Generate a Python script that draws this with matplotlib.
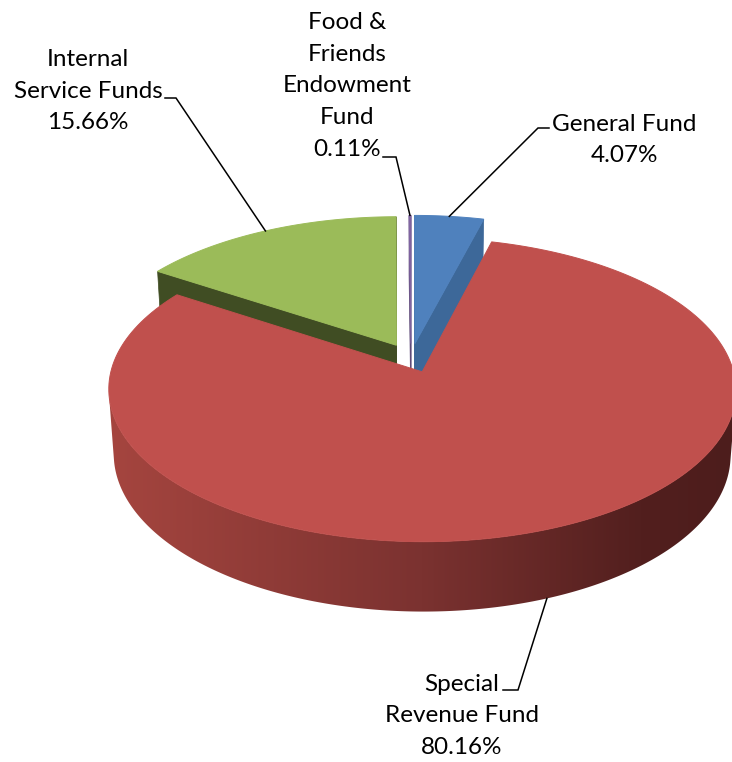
import numpy as np
import matplotlib.pyplot as plt
from matplotlib.patches import Polygon
from matplotlib.colors import LinearSegmentedColormap

# slice data, in drawing order (clockwise from 12 o'clock)
funds = ["General Fund", "Special Revenue Fund", "Internal Service Funds",
         "Food & Friends Endowment Fund"]
shares = [4.07, 80.16, 15.66, 0.11]
label_lines = ["General Fund", "Special\nRevenue Fund", "Internal\nService Funds",
               "Food &\nFriends\nEndowment\nFund"]
top_colors = ["#4F81BD", "#C0504D", "#9BBB59", "#8064A2"]
side_colors = ["#3D6899", "#8E3B39", "#404D23", "#5E4A78"]

# label layout: text centre, leader stub (text side x, elbow x, y), anchor on rim
label_pos = [(624, 140), (462, 716), (88, 91), (347, 86)]
label_stub = [(549, 538, 128), (503, 518, 690), (165, 176, 98), (383, 396, 157)]
anchor_level = ["top", "bottom", "top", "top"]

# 3d view settings (pixel space)
ELEV = np.radians(30)
DIST = 7.5
SCALE = 303
CX, CY = 411, 422
HEIGHT = 0.24
EXPLODE = 0.10
CAM = np.array([0, DIST * np.sin(ELEV), -DIST * np.cos(ELEV)])

# shading of the big rim, light on the left to dark on the right
rim_shade = LinearSegmentedColormap.from_list(
    "rim", [(0.0, "#A5453F"), (0.5, "#7B3230"), (0.85, "#521F1E"), (1.0, "#4D1D1C")])


def project(p):
    X, Y, Z = p
    sy = Y * np.cos(ELEV) + Z * np.sin(ELEV)
    w = Z * np.cos(ELEV) - Y * np.sin(ELEV)
    s = DIST / (DIST + w)
    return CX + SCALE * X * s, CY - SCALE * sy * s


def depth(p):
    return p[2] * np.cos(ELEV) - p[1] * np.sin(ELEV)


def visible(normal, point):
    return np.dot(normal, CAM - np.asarray(point)) > 0


fig = plt.figure(figsize=(7.32, 7.62), dpi=100)
ax = fig.add_axes([0, 0, 1, 1])
ax.set_xlim(0, 732)
ax.set_ylim(762, 0)
ax.axis("off")

bounds = np.concatenate([[0], np.cumsum(shares)]) / sum(shares) * 2 * np.pi
slices = []
for i in range(len(shares)):
    a0, a1 = bounds[i], bounds[i + 1]
    mid = (a0 + a1) / 2
    off = np.array([EXPLODE * np.sin(mid), 0, EXPLODE * np.cos(mid)])
    slices.append((i, a0, a1, mid, off))

# paint far slices first
slices.sort(key=lambda s: -depth(s[4] + 0.5 * np.array([np.sin(s[3]), 0, np.cos(s[3])])))

anchors = {}
for i, a0, a1, mid, off in slices:
    def rim(t, y):
        return off + np.array([np.sin(t), y, np.cos(t)])
    ctop = off + np.array([0, HEIGHT, 0])
    cbot = off.copy()

    # radial cut faces
    for t, n in [(a0, np.array([-np.cos(a0), 0, np.sin(a0)])),
                 (a1, np.array([np.cos(a1), 0, -np.sin(a1)]))]:
        face = [ctop, rim(t, HEIGHT), rim(t, 0), cbot]
        if visible(n, np.mean(face, axis=0)):
            ax.add_patch(Polygon([project(p) for p in face], closed=True,
                                 facecolor=side_colors[i], edgecolor=side_colors[i],
                                 lw=0.5, zorder=2))

    # outer rim: keep the part that faces the camera
    ts = np.linspace(a0, a1, 720)
    keep = [t for t in ts
            if visible(np.array([np.sin(t), 0, np.cos(t)]), rim(t, HEIGHT / 2))]
    if len(keep) > 1:
        outline = [project(rim(t, HEIGHT)) for t in keep] + \
                  [project(rim(t, 0)) for t in keep[::-1]]
        if i == 1:
            wall = Polygon(outline, closed=True, facecolor="none", edgecolor="none")
            ax.add_patch(wall)
            xs = [p[0] for p in outline]
            ys = [p[1] for p in outline]
            grad = ax.imshow(np.linspace(0, 1, 256)[None, :], cmap=rim_shade,
                             extent=[min(xs), max(xs), max(ys), min(ys)],
                             aspect="auto", zorder=2, interpolation="bilinear")
            grad.set_clip_path(wall)
        else:
            ax.add_patch(Polygon(outline, closed=True, facecolor=side_colors[i],
                                 edgecolor=side_colors[i], lw=0.5, zorder=2))

    # top face
    arc = [project(rim(t, HEIGHT)) for t in np.linspace(a0, a1, 200)]
    ax.add_patch(Polygon([project(ctop)] + arc, closed=True, facecolor=top_colors[i],
                         edgecolor=top_colors[i], lw=0.7, zorder=2))

    level = HEIGHT if anchor_level[i] == "top" else 0
    anchors[i] = project(rim(mid, level))

ax.set_xlim(0, 732)
ax.set_ylim(762, 0)

# labels with leader lines
for i in range(len(shares)):
    tx, ty = label_pos[i]
    ax.text(tx, ty, f"{label_lines[i]}\n{shares[i]:.2f}%", ha="center", va="center",
            multialignment="center", fontsize=17.5, family="Lato", linespacing=1.64,
            color="#000000", zorder=5)
    xs, xe, yl = label_stub[i]
    axx, ayy = anchors[i]
    ax.plot([xs, xe, axx], [yl, yl, ayy], color="black", lw=1.1, zorder=4,
            solid_joinstyle="miter")

fig.savefig("out.png", dpi=100)
